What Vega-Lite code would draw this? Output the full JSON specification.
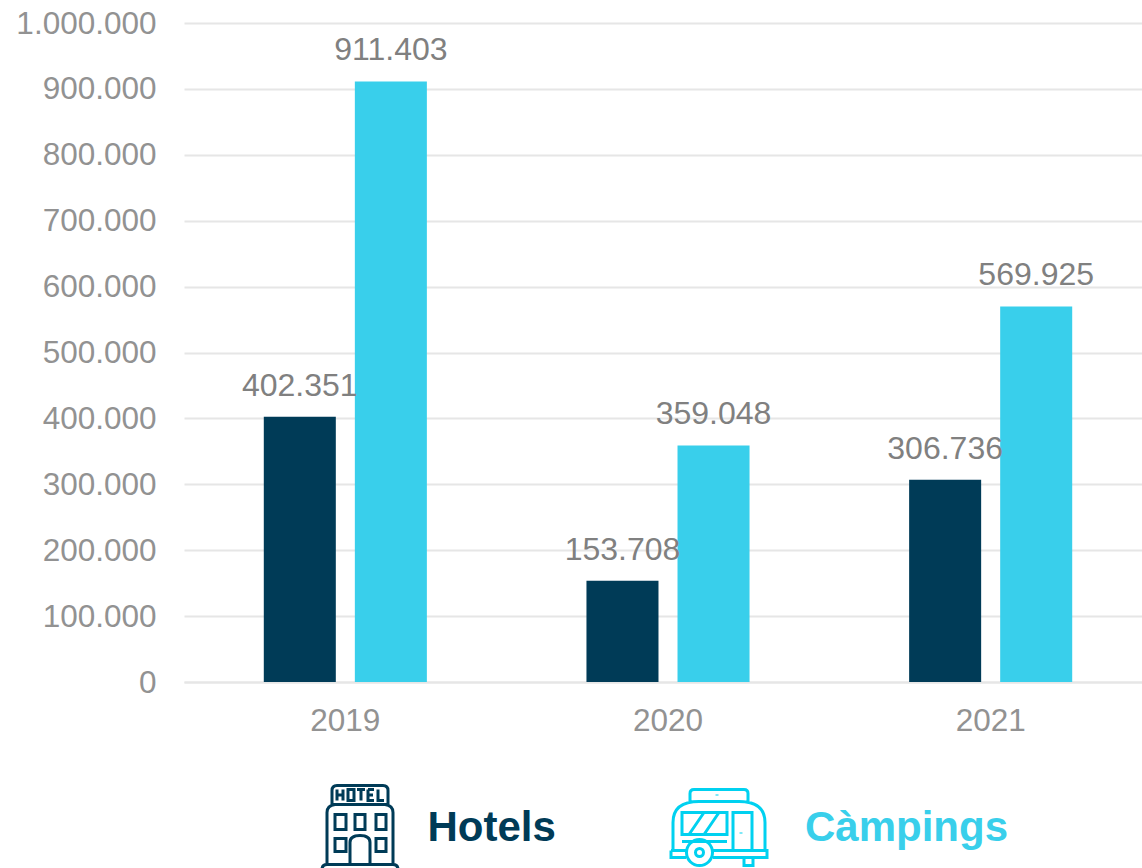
{
"$schema":"https://vega.github.io/schema/vega-lite/v6.json",
"autosize":"none",
"width":958,"height":659,
"padding":{"left":184,"top":23,"right":0,"bottom":186},
"background":"white",
"config":{"locale":{"number":{"decimal":",","thousands":".","grouping":[3],"currency":["","€"]}},"view":{"stroke":null},"font":"Liberation Sans"},
"data":{"values":[
{"any":"2019","tipus":"Hotels","valor":402351},
{"any":"2019","tipus":"Càmpings","valor":911403},
{"any":"2020","tipus":"Hotels","valor":153708},
{"any":"2020","tipus":"Càmpings","valor":359048},
{"any":"2021","tipus":"Hotels","valor":306736},
{"any":"2021","tipus":"Càmpings","valor":569925}
]},
"encoding":{
"x":{"field":"any","type":"nominal","scale":{"range":[0,968],"paddingInner":0.4946,"paddingOuter":0.2473},
"axis":{"title":null,"labelAngle":0,"labelFontSize":31.5,"labelColor":"#929292","labelPadding":23,"ticks":false,"domain":true,"domainColor":"#e6e6e6","domainWidth":2,"grid":false}},
"xOffset":{"field":"tipus","type":"nominal","sort":["Hotels","Càmpings"],"scale":{"paddingInner":0.209,"paddingOuter":0}},
"y":{"field":"valor","type":"quantitative","scale":{"domain":[0,1000000],"nice":false},
"axis":{"title":null,"values":[0,100000,200000,300000,400000,500000,600000,700000,800000,900000,1000000],"labelExpr":"format(datum.value,',')","labelFontSize":31.5,"labelColor":"#929292","labelPadding":28,"labelOffset":1,"ticks":false,"domain":false,"grid":true,"gridColor":"#e6e6e6","gridWidth":2}}
},
"resolve":{"scale":{"stroke":"independent"},"legend":{"stroke":"independent"}},
"layer":[
{"mark":{"type":"bar"},
"encoding":{
"color":{"field":"tipus","type":"nominal","scale":{"domain":["Hotels","Càmpings"],"range":["#003b57","#39cfeb"]},"legend":null}
}},
{"transform":[{"filter":"datum.tipus=='Hotels'"}],
"mark":{"type":"point","filled":false,"size":0,"strokeWidth":3,"opacity":1},
"encoding":{
"stroke":{"field":"tipus","type":"nominal","scale":{"domain":["Hotels"],"range":["#003b57"]},"legend":{"title":null,"orient":"none","legendX":124.5,"legendY":753,"padding":0,"labelFontSize":42,"labelFontWeight":"bold","labelOffset":16,"labelLimit":400,"labelColor":"#003b57","symbolSize":10000,"symbolStrokeWidth":3,"symbolOpacity":1,
"symbolType":"M-.56-.46V-.74Q-.56-.84-.46-.84H.46Q.56-.84.56-.74V-.46ZM-.5-.46Q-.66-.44-.66-.3V.74M.5-.46Q.66-.44.66-.3V.74M-.76.98V.84Q-.76.74-.66.74H.66Q.76.74.76.84V.98M-.5-.26H-.28V.04H-.5ZM-.1-.26H.1V.04H-.1ZM.32-.26H.52V.04H.32ZM-.5.22H-.28V.48H-.5ZM.32.22H.52V.48H.32ZM-.2.74V.3Q-.2.16 0 .16Q.2.16.2.3V.74M-.46-.76V-.54M-.34-.76V-.54M-.46-.65H-.34M-.24-.76H-.12V-.54H-.24ZM-.06-.76H.1M.02-.76V-.54M.16-.76V-.54H.28M.16-.76H.28M.16-.65H.26M.36-.76V-.54H.48"}}
}},
{"transform":[{"filter":"datum.tipus=='Càmpings'"}],
"mark":{"type":"point","filled":false,"size":0,"strokeWidth":3,"opacity":1},
"encoding":{
"stroke":{"field":"tipus","type":"nominal","scale":{"domain":["Càmpings"],"range":["#00d1f0"]},"legend":{"title":null,"orient":"none","legendX":483.5,"legendY":753,"padding":0,"labelFontSize":42,"labelFontWeight":"bold","labelOffset":34.5,"labelLimit":400,"labelColor":"#39cfeb","symbolSize":10000,"symbolStrokeWidth":3,"symbolOpacity":1,
"symbolType":"M-.58-.52V-.68Q-.58-.76-.5-.76H.5Q.58-.76.58-.68V-.52M-.92.46V-.1Q-.92-.52-.4-.52H.4Q.92-.52.92-.1V.46M-.96.46H-.66M-.12.46H.96V.6H-.12M-.96.46V.6H-.66M-.39.24A.26.26 0 1 1-.39.76A.26.26 0 1 1-.39.24M-.39.42A.08.08 0 1 1-.39.58A.08.08 0 1 1-.39.42M-.74-.3H.16V.14H-.74ZM-.6.14L-.3-.3M-.3.14L0-.3M-.74.28H.16M.28.46V-.3H.66V.46M.5.6V.76H.68V.6M.44.1V.12M-.04-.66V-.64"}}
}},
{"mark":{"type":"text","baseline":"bottom","dy":-14,"fontSize":32,"color":"#808080"},
"encoding":{"text":{"field":"valor","type":"quantitative","format":","}}}
]
}
